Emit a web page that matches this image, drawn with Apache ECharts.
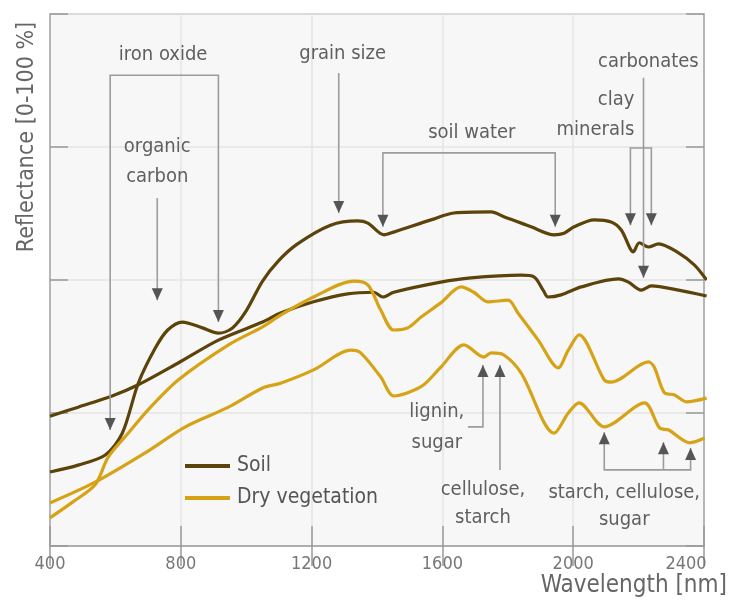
<!DOCTYPE html>
<html><head><meta charset="utf-8">
<script src="https://cdn.jsdelivr.net/npm/echarts@6/dist/echarts.min.js"></script>
<style>html,body{margin:0;padding:0;background:#fff}#c{width:729px;height:603px}</style>
</head><body><div id="c"></div>
<script>
const FONT = "'Liberation Sans Narrow','DejaVu Sans Condensed','Roboto',sans-serif";
const xTicks = [400, 800, 1200, 1600, 2000, 2400];
const seriesNames = ['Soil', 'Dry vegetation'];
// [wavelength nm, reflectance %]
const soilA = [[400,13.9],[486,15.2],[569,17.1],[621,21.2],[670,30.6],[722,37.2],[760,40.6],[805,42.1],[866,41.0],[915,40.0],[958,41.0],[1000,44.2],[1050,49.8],[1100,53.7],[1157,56.8],[1258,60.3],[1341,61.1],[1372,60.7],[1421,58.5],[1451,59.0],[1565,61.3],[1635,62.6],[1749,62.8],[1788,61.9],[1871,60.0],[1942,58.5],[1972,58.8],[2003,60.0],[2064,61.3],[2116,60.9],[2147,59.4],[2184,55.3],[2202,57.0],[2230,56.2],[2261,56.8],[2322,55.1],[2371,52.8],[2408,50.0]];
const soilB = [[400,24.4],[486,26.1],[590,28.2],[670,30.3],[792,34.4],[915,38.7],[1050,42.1],[1105,43.8],[1206,45.9],[1310,47.4],[1390,47.7],[1418,46.8],[1451,47.7],[1595,49.6],[1687,50.4],[1841,50.9],[1880,50.6],[1908,48.1],[1923,46.8],[1963,47.2],[2025,48.7],[2138,50.2],[2169,49.6],[2208,48.1],[2239,48.9],[2322,48.1],[2408,47.0]];
const vegA = [[400,5.3],[470,8.3],[538,11.5],[578,16.7],[639,21.2],[700,25.6],[792,31.2],[946,37.8],[1050,41.2],[1105,43.4],[1206,46.8],[1329,49.8],[1372,49.1],[1411,44.4],[1451,40.6],[1494,41.0],[1534,43.0],[1595,45.7],[1657,48.7],[1696,47.7],[1739,45.9],[1801,46.2],[1831,43.8],[1893,38.7],[1954,33.5],[1985,36.8],[2018,39.7],[2095,31.2],[2116,30.8],[2230,34.6],[2248,33.6],[2279,28.8],[2310,28.4],[2346,27.1],[2408,27.8]];
const vegB = [[400,8.1],[538,12.0],[691,17.5],[814,22.4],[946,26.1],[1050,29.7],[1105,30.6],[1206,33.1],[1320,36.8],[1350,36.3],[1411,31.8],[1451,28.2],[1494,28.8],[1543,30.3],[1595,33.6],[1666,37.8],[1727,35.5],[1749,36.3],[1788,35.9],[1841,32.5],[1942,21.2],[1985,25.0],[2018,26.9],[2095,22.4],[2218,26.9],[2264,22.2],[2292,21.8],[2356,19.4],[2402,20.3]];

// annotations in data coordinates
const annoTexts = [
  ['iron oxide', 746, 92.3, 'center'],
  ['organic', 728, 75.0, 'center'], ['carbon', 728, 69.4, 'center'],
  ['grain size', 1295, 92.5, 'center'],
  ['soil water', 1690, 77.6, 'center'],
  ['carbonates', 2230, 91.0, 'center'],
  ['clay', 2187, 83.8, 'right'], ['minerals', 2187, 78.2, 'right'],
  ['lignin,', 1583, 25.2, 'center'], ['sugar', 1583, 19.4, 'center'],
  ['cellulose,', 1724, 10.5, 'center'], ['starch', 1724, 5.3, 'center'],
  ['starch, cellulose,', 2156, 10.0, 'center'], ['sugar', 2156, 4.9, 'center']
];
const annoLines = [
  [[584,21.8],[584,88.5],[915,88.5],[915,42.1]],
  [[728,65.4],[728,46.2]],
  [[1283,88.9],[1283,62.6]],
  [[1418,60.0],[1418,73.9],[1945,73.9],[1945,60.0]],
  [[2215,88.0],[2215,50.4]],
  [[2175,60.3],[2175,74.8],[2239,74.8],[2239,60.3]],
  [[1678,22.4],[1724,22.4],[1724,34.0]],
  [[1776,14.3],[1776,34.0]],
  [[2095,21.4],[2095,14.3],[2359,14.3],[2359,18.4]],
  [[2276,14.3],[2276,19.5]]
];
const annoArrows = [
  [584,21.8,'down'],[915,42.1,'down'],[728,46.2,'down'],[1283,62.6,'down'],
  [1418,60.0,'down'],[1945,60.0,'down'],[2215,50.4,'down'],[2175,60.3,'down'],[2239,60.3,'down'],
  [1724,34.0,'up'],[1776,34.0,'up'],[2095,21.4,'up'],[2276,19.5,'up'],[2359,18.4,'up']
];

const SOIL = '#5b4309', VEG = '#d6a216';
const chart = echarts.init(document.getElementById('c'), null, {renderer: 'canvas'});
const xBase = {
  type: 'value', min: 400, max: 2400, interval: 400,
  axisLine: {show: true, lineStyle: {color: '#aaa', width: 1.5}},
  axisTick: {show: true, inside: true, length: 20, lineStyle: {color: '#999', width: 1.5}},
  splitLine: {show: false}
};
const yBase = {
  type: 'value', min: 0, max: 100, interval: 25,
  axisLine: {show: true, lineStyle: {color: '#aaa', width: 1.5}},
  axisTick: {show: true, inside: true, length: 18, lineStyle: {color: '#999', width: 1.5}},
  axisLabel: {show: false}
};
function mk(name, data, color) {
  return {type: 'line', name, data, smooth: 0.3, symbol: 'none', clip: true,
    lineStyle: {color, width: 3.2}, itemStyle: {color}};
}
chart.setOption({
  animation: false,
  backgroundColor: '#fff',
  grid: {left: 50, top: 14, right: 25, bottom: 57, show: true, backgroundColor: '#f7f7f7', borderColor: '#aaa', borderWidth: 1.5},
  xAxis: [
    Object.assign({}, xBase, {position: 'bottom',
      splitLine: {show: true, lineStyle: {color: '#e4e4e4', width: 1.5}},
      axisLabel: {show: true, margin: 9, fontFamily: FONT, fontSize: 18, color: '#777',
        formatter: v => v === xTicks[xTicks.length - 1] ? '{e|' + v + '}' : String(v),
        rich: {e: {fontFamily: FONT, fontSize: 18, color: '#777', padding: [0, 36, 0, 0]}}}}),
    Object.assign({}, xBase, {position: 'top', axisLabel: {show: false}})
  ],
  yAxis: [
    Object.assign({}, yBase, {position: 'left', splitLine: {show: true, lineStyle: {color: '#e4e4e4', width: 1.5}}}),
    Object.assign({}, yBase, {position: 'right', splitLine: {show: false}})
  ],
  legend: {
    data: seriesNames, orient: 'vertical', left: 180, top: 449, icon: 'rect',
    itemWidth: 45, itemHeight: 4, itemGap: 8,
    textStyle: {fontFamily: FONT, fontSize: 21, color: '#555', lineHeight: 24, padding: [0, 0, 0, 2]}
  },
  series: [
    mk(seriesNames[0], soilA, SOIL),
    mk(seriesNames[0], soilB, SOIL),
    mk(seriesNames[1], vegA, VEG),
    mk(seriesNames[1], vegB, VEG)
  ]
});

const P = (x, y) => chart.convertToPixel({gridIndex: 0}, [x, y]);
const g = [];
annoLines.forEach(pts => {
  g.push({type: 'polyline', silent: true, z: 50, shape: {points: pts.map(p => P(p[0], p[1]))},
    style: {stroke: '#9c9c9c', lineWidth: 1.6, fill: null}});
});
annoArrows.forEach(a => {
  const [px, py] = P(a[0], a[1]);
  const d = a[2] === 'down' ? -1 : 1;
  g.push({type: 'polygon', silent: true, z: 51,
    shape: {points: [[px - 5.5, py + d * 12], [px + 5.5, py + d * 12], [px, py]]},
    style: {fill: '#555'}});
});
annoTexts.forEach(t => {
  const [px, py] = P(t[1], t[2]);
  g.push({type: 'text', silent: true, z: 52, x: px, y: py,
    style: {text: t[0], font: '20px ' + FONT, fill: '#5f5f5f', align: t[3], verticalAlign: 'middle', textAlign: t[3], textVerticalAlign: 'middle'}});
});
g.push({type: 'text', silent: true, z: 52, x: 27, y: 137, rotation: Math.PI / 2,
  style: {text: 'Reflectance [0-100 %]', font: '23px ' + FONT, fill: '#666', align: 'center', verticalAlign: 'middle', textAlign: 'center', textVerticalAlign: 'middle'}});
g.push({type: 'text', silent: true, z: 52, x: 727, y: 586,
  style: {text: 'Wavelength [nm]', font: '24px ' + FONT, fill: '#666', align: 'right', verticalAlign: 'middle', textAlign: 'right', textVerticalAlign: 'middle'}});
chart.setOption({graphic: g});
</script></body></html>
